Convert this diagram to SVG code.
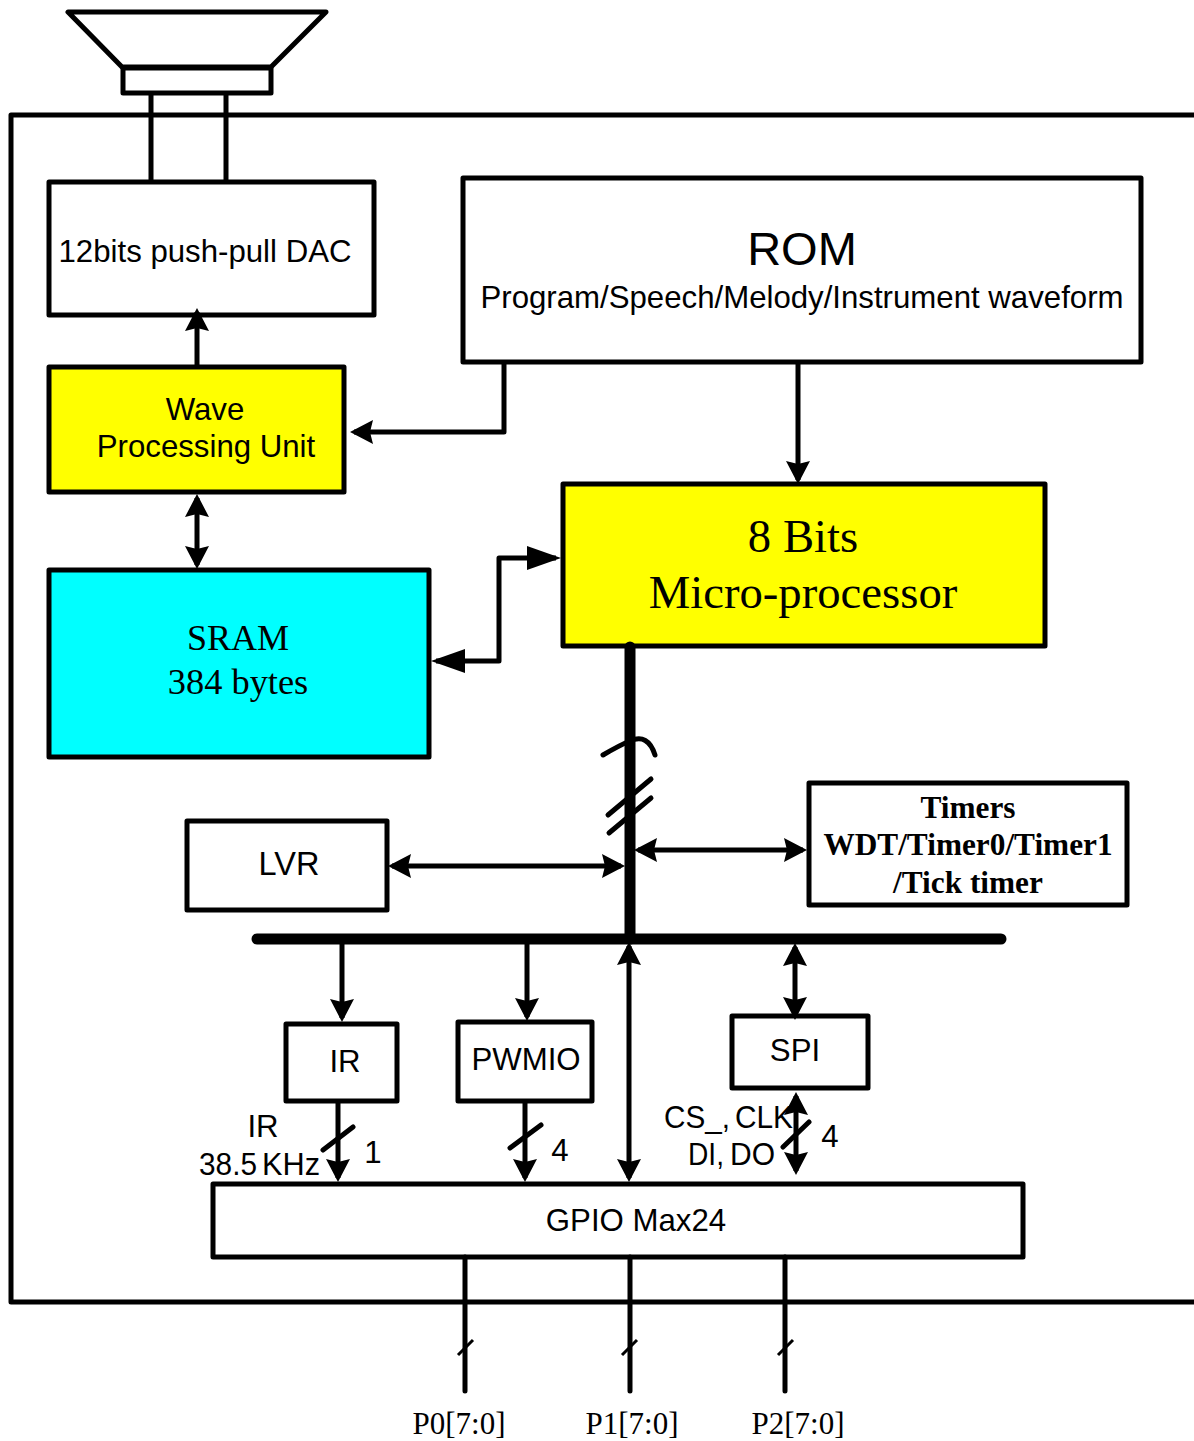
<svg xmlns="http://www.w3.org/2000/svg" width="1194" height="1441" viewBox="0 0 1194 1441">
<style>
.b{stroke:#000;stroke-width:5;fill:#fff;stroke-linejoin:round}
.l{stroke:#000;stroke-width:5;fill:none;stroke-linejoin:round;stroke-linecap:round}
.a{stroke:#000;stroke-width:5;fill:none;stroke-linejoin:round}
.s{font-family:"Liberation Sans",Arial,sans-serif;fill:#000;font-size:31.2px}
.r{font-family:"Liberation Serif","Times New Roman",serif;fill:#000}
text{text-anchor:middle}
.t{text-anchor:start}
</style>
<defs>
<marker id="e" markerUnits="userSpaceOnUse" markerWidth="26" markerHeight="26" refX="19" refY="12" orient="auto-start-reverse"><path d="M0 0L23 12L0 24L3 12Z" fill="#000"/></marker>
<marker id="f" markerUnits="userSpaceOnUse" markerWidth="36" markerHeight="26" refX="29" refY="12" orient="auto-start-reverse"><path d="M0 0L34 12L0 24Z" fill="#000"/></marker>
</defs>
<rect width="1194" height="1441" fill="#fff"/>
<path class="l" d="M1196 115H11V1302H1196"/>
<g id="speaker"><path class="l" d="M68 12H326L271 67H122Z"/><rect class="b" x="123" y="68" width="148" height="25"/></g>
<g id="dac"><rect class="b" x="49" y="182" width="325" height="133"/><text class="s" x="205" y="262">12bits push-pull DAC</text></g>
<g id="rom"><rect class="b" x="463" y="178" width="678" height="184"/><text class="s" x="802" y="265" style="font-size:47px">ROM</text><text class="s" x="802" y="308">Program/Speech/Melody/Instrument waveform</text></g>
<g id="wpu"><rect class="b" x="49" y="367" width="295" height="125" style="fill:#ff0"/><text class="s" x="205" y="420">Wave</text><text class="s" x="206" y="457">Processing Unit</text></g>
<g id="mcu"><rect class="b" x="563" y="484" width="482" height="162" style="fill:#ff0"/><text class="r" x="803" y="552" font-size="46.7">8 Bits</text><text class="r" x="803" y="608" font-size="46.7">Micro-processor</text></g>
<g id="sram"><rect class="b" x="49" y="570" width="380" height="187" style="fill:#0ff"/><text class="r" x="238" y="650" font-size="36">SRAM</text><text class="r" x="238" y="694" font-size="36.4">384 bytes</text></g>
<g id="lvr"><rect class="b" x="187" y="821" width="200" height="89"/><text class="s" x="289" y="875" style="font-size:32.5px">LVR</text></g>
<g id="timers"><rect class="b" x="809" y="783" width="318" height="122"/><text class="r" x="968" y="818" font-size="31.3" font-weight="bold">Timers</text><text class="r" x="968" y="855" font-size="31.3" font-weight="bold">WDT/Timer0/Timer1</text><text class="r" x="968" y="893" font-size="31.3" font-weight="bold">/Tick timer</text></g>
<g id="ir"><rect class="b" x="286" y="1024" width="111" height="77"/><text class="s" x="345" y="1072">IR</text></g>
<g id="pwmio"><rect class="b" x="458" y="1022" width="134" height="79"/><text class="s" x="526" y="1070">PWMIO</text></g>
<g id="spi"><rect class="b" x="732" y="1016" width="136" height="72"/><text class="s" x="795" y="1061">SPI</text></g>
<g id="gpio"><rect class="b" x="213" y="1184" width="810" height="73"/><text class="s" x="636" y="1231">GPIO Max24</text></g>
<g id="connectors">
<path class="a" d="M151 93V182M226 93V182"/>
<path class="a" d="M197 367V312" marker-end="url(#e)"/>
<path class="a" d="M504 362V432H354" marker-end="url(#e)"/>
<path class="a" d="M798 362V480" marker-end="url(#e)"/>
<path class="a" d="M197 498V565" marker-start="url(#e)" marker-end="url(#e)"/>
<path class="a" d="M436 661H499V558H556" marker-start="url(#f)" marker-end="url(#f)"/>
<path d="M630 647V939" stroke="#000" stroke-width="11" stroke-linecap="round" fill="none"/>
<path d="M257 939H1001" stroke="#000" stroke-width="11" stroke-linecap="round" fill="none"/>
<path class="l" d="M603 755Q620 745 630 741Q648 733 655 755"/>
<path class="l" d="M608 815L651 779M609 833L651 798"/>
<path class="a" d="M392 866H621" marker-start="url(#e)" marker-end="url(#e)"/>
<path class="a" d="M638 850H803" marker-start="url(#e)" marker-end="url(#e)"/>
<path class="a" d="M342 944V1018" marker-end="url(#e)"/>
<path class="a" d="M527 944V1017" marker-end="url(#e)"/>
<path class="a" d="M629 946V1178" marker-start="url(#e)" marker-end="url(#e)"/>
<path class="a" d="M795 947V1016" marker-start="url(#e)" marker-end="url(#e)"/>
<path class="a" d="M338 1101V1178" marker-end="url(#e)"/>
<path class="a" d="M525 1101V1178" marker-end="url(#e)"/>
<path class="a" d="M796 1096V1171" marker-start="url(#e)" marker-end="url(#e)"/>
<path class="l" d="M323 1150L353 1127M510 1148L541 1125M783 1147L809 1122"/>
<path class="l" d="M465 1257V1391M630 1257V1391M785 1257V1391"/>
<path stroke="#000" stroke-width="3" fill="none" d="M458 1355L473 1340M622 1355L637 1340M778 1355L793 1340"/>
</g>
<g id="labels">
<text class="s" x="263" y="1137">IR</text>
<text class="s t" x="199" y="1175" textLength="58" lengthAdjust="spacingAndGlyphs">38.5</text>
<text class="s t" x="262" y="1175" textLength="58" lengthAdjust="spacingAndGlyphs">KHz</text>
<text class="s" x="373" y="1163">1</text>
<text class="s" x="560" y="1161">4</text>
<text class="s" x="830" y="1147">4</text>
<text class="s t" x="664" y="1128" textLength="66" lengthAdjust="spacingAndGlyphs">CS_,</text>
<text class="s t" x="735" y="1128" textLength="58" lengthAdjust="spacingAndGlyphs">CLK</text>
<text class="s t" x="688" y="1165" textLength="36" lengthAdjust="spacingAndGlyphs">DI,</text>
<text class="s t" x="730" y="1165" textLength="45" lengthAdjust="spacingAndGlyphs">DO</text>
<text class="r" x="459" y="1434" font-size="31">P0[7:0]</text>
<text class="r" x="632" y="1434" font-size="31">P1[7:0]</text>
<text class="r" x="798" y="1434" font-size="31">P2[7:0]</text>
</g>
</svg>
